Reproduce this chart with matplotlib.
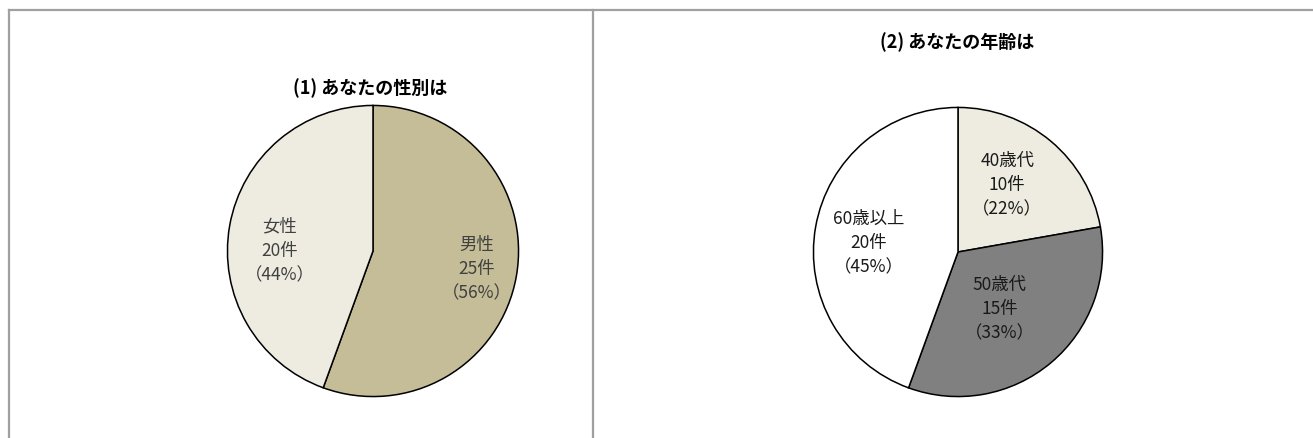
import matplotlib
matplotlib.use('Agg')
import matplotlib.pyplot as plt
from matplotlib.lines import Line2D

plt.rcParams['font.family'] = ['Noto Sans CJK JP', 'DejaVu Sans']

# (1) gender
sex_labels = ['男性', '女性']
sex_counts = [25, 20]
sex_pct = ['56%', '44%']
sex_colors = ['#C4BD97', '#EEECE1']

# (2) age
age_labels = ['40歳代', '50歳代', '60歳以上']
age_counts = [10, 15, 20]
age_pct = ['22%', '33%', '45%']
age_colors = ['#EEECE1', '#808080', '#FFFFFF']

W, H = 1313, 439
fig = plt.figure(figsize=(W / 100, H / 100), dpi=100)


def pie_axes(cx, cy, r):
    # axes box in figure fraction from a pixel centre and radius
    return fig.add_axes([(cx - r) / W, (H - cy - r) / H, 2 * r / W, 2 * r / H])


def draw_pie(ax, counts, colors):
    ax.pie(counts, colors=colors, startangle=90, counterclock=False,
           radius=1.0, wedgeprops=dict(edgecolor='black', linewidth=1.1))
    ax.set_xlim(-1.01, 1.01)
    ax.set_ylim(-1.01, 1.01)
    ax.set_aspect('auto')
    ax.axis('off')


def label(ax, x, y, name, n, pct, color):
    ax.text(x, y, f'{name}\n{n}件\n（{pct}）', ha='center', va='center',
            fontsize=12.5, color=color, linespacing=1.45)


# left pie
ax1 = pie_axes(373, 252, 147)
draw_pie(ax1, sex_counts, sex_colors)
label_pos1 = [(0.71, -0.12), (-0.64, 0.01)]
for (x, y), name, n, p in zip(label_pos1, sex_labels, sex_counts, sex_pct):
    label(ax1, x, y, name, n, p, '#404040')
fig.text(370 / W, 1 - 88 / H, '(1) あなたの性別は', ha='center', va='center',
         fontsize=13, fontweight='bold')

# right pie
ax2 = pie_axes(958, 253, 146)
draw_pie(ax2, age_counts, age_colors)
label_pos2 = [(0.34, 0.47), (0.29, -0.39), (-0.62, 0.07)]
for (x, y), name, n, p in zip(label_pos2, age_labels, age_counts, age_pct):
    label(ax2, x, y, name, n, p, '#1a1a1a')
fig.text(957 / W, 1 - 42 / H, '(2) あなたの年齢は', ha='center', va='center',
         fontsize=13, fontweight='bold')

# frame lines
frame = dict(color='#A0A0A0', linewidth=1.6, transform=fig.transFigure)
fig.add_artist(Line2D([9 / W, 1], [1 - 11 / H, 1 - 11 / H], **frame))
fig.add_artist(Line2D([9 / W, 9 / W], [0, 1 - 11 / H], **frame))
fig.add_artist(Line2D([593 / W, 593 / W], [0, 1 - 11 / H], **frame))

fig.savefig('out.png', dpi=100)
